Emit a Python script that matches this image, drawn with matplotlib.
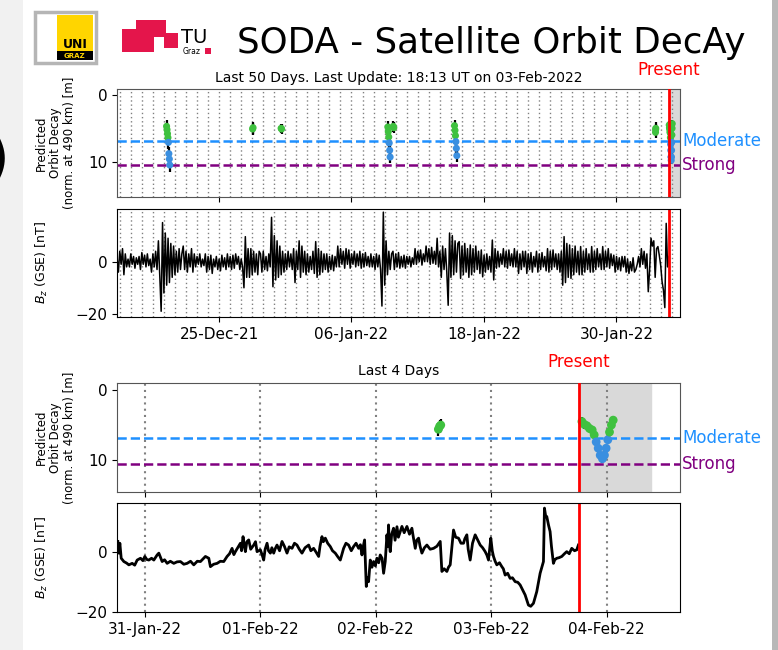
import matplotlib
matplotlib.use('Agg')
import matplotlib.pyplot as plt
import matplotlib.dates as mdates
import matplotlib.transforms as mtransforms
from matplotlib.ticker import FixedLocator
from matplotlib.patches import Rectangle
import numpy as np
import pandas as pd

# ---------------- data ----------------
now = pd.Timestamp('2022-02-03 18:13')
moderate = 6.85
strong = 10.55

# predicted orbit decay [m] (time, value, error)
decay_time = ['2021-12-20 06:00', '2021-12-20 07:00', '2021-12-20 08:00', '2021-12-20 09:00',
              '2021-12-20 10:00', '2021-12-20 11:00', '2021-12-20 12:00', '2021-12-20 13:00',
              '2021-12-28 01:00', '2021-12-28 02:00',
              '2021-12-30 15:00', '2021-12-30 16:00',
              '2022-01-09 07:00', '2022-01-09 08:00', '2022-01-09 09:00', '2022-01-09 10:00',
              '2022-01-09 11:00', '2022-01-09 12:00',
              '2022-01-09 19:00', '2022-01-09 20:00',
              '2022-01-15 08:00', '2022-01-15 09:00', '2022-01-15 10:00', '2022-01-15 11:00',
              '2022-01-15 12:00', '2022-01-15 13:00',
              '2022-02-02 13:00', '2022-02-02 13:15', '2022-02-02 13:30',
              '2022-02-03 18:50', '2022-02-03 19:19', '2022-02-03 19:52', '2022-02-03 20:25',
              '2022-02-03 20:58', '2022-02-03 21:23', '2022-02-03 21:48', '2022-02-03 22:13',
              '2022-02-03 22:38', '2022-02-03 23:06', '2022-02-03 23:31', '2022-02-03 23:52',
              '2022-02-04 00:13', '2022-02-04 00:34', '2022-02-04 00:58', '2022-02-04 01:20']
decay_val = [4.7, 5.2, 5.8, 6.4, 7.1, 8.8, 9.6, 10.5,
             5.1, 4.9,
             5.0, 5.1,
             4.8, 5.5, 6.3, 7.2, 8.3, 9.3,
             4.7, 4.9,
             4.6, 5.3, 6.1, 7.0, 8.0, 9.1,
             5.6, 5.2, 5.0,
             4.5, 4.9, 5.1, 5.5, 5.7, 6.4, 7.4, 8.3,
             9.3, 9.8, 9.3, 8.3, 7.1, 6.0, 5.0, 4.3]
decay_err = [1.0] * 8 + [0.9] * 2 + [0.7] * 2 + [0.9] * 6 + [0.8] * 2 + [0.9] * 6 + [0.9] * 3 + [0.6] * 16

# Bz last 50 days, 3-hourly samples starting at now - 50 days (one row per day)
bz50 = [2, -4, 4, -1, 5, -5, 3, -2,
        1, -2, 3, -1, 2, -2.5, 1.5, -1,
        2, -3, 3.5, -1, 2.5, -2, 3, -1.5,
        1, -4, 3, -2, 4, -3, 8, -6,
        -19, 15, -12, 11, -9, 9, -8, 7,
        -6, 6, -5, 4, -4, 5, -3, 3,
        6, -3, 4, -4, 3, -2, 5, -4,
        3, -2, 2, -1, 3, -2, 1, -1.5,
        3, -4, 2, -3, 2.5, -4.5, 1, -2,
        2, -3, 1, -3.5, 2.5, -2, 1.5, -3,
        3, -2, 2, -3, 2.5, -2.5, 3, -1,
        2, -3, 1, -2, -10, 9.6, -6, 5,
        -6, 5, -5, 4, -4, 3, -5, 4,
        3, -4, 4, -3, 2, -3.5, 3, -2,
        17, -9.6, 10, -7, 8, -6, 6, -5,
        4, -4, 3, -3, 4, -2, 3, -3,
        5, -8, 4, -3, 8, -6, 6, -4,
        4, -5, 3, -4, 2, -3, 4, -4.5,
        7.7, -6, 5, -5, 4, -4, 3, -3,
        3, -4, 2, -3, 2.5, -3.5, 2, -2,
        6, -2, 5, -1, 4, -2.5, 5, -1,
        4.5, -2.5, 3, -1, 4, -2, 3, -1.5,
        4, -2.5, 3, -2, 3.5, -1.5, 2, -2,
        3, -2, 2, -3, 3, -2, 2.5, -3,
        -17, 19, -9, 8, -5, 4, -3, 3,
        4, -3, 3, -2, 3.5, -2.5, 2, -2,
        2.5, -2.5, 2, -1, 2, -2, 1.5, -1,
        5, -1, 4, 0, 4.5, -1.3, 3, 0,
        6, 0, 5, -1, 5.5, -0.6, 4, -1,
        9, -2, 4, -6, 6, -3, 5, -4,
        -16.7, 11, -6, 10, -5, 8, -4, 7,
        7.7, -6.4, 6, -5, 7, -4, 5, -6,
        6.4, -5, 5, -4, 6, -3, 4, -4.5,
        4.5, -5.8, 2.5, -4, 3, -3, 2, -4,
        8.3, -7, 5, -2.5, 4, -2, 3, -1,
        5, -2, 4, -2.5, 4.5, -1.5, 3, -2,
        5, -2, 4, -4.5, 3, -3, 4, -2,
        4, -4.5, 3, -3, 3.5, -4, 2, -2,
        4, -4, 3, -3, 3.5, -2, 2, -3.5,
        5, -4, 4, -3, 4.5, -2, 3, -3,
        3, -4, 4, -9, 9.6, -8, 7, -6,
        6.4, -6.4, 5, -5, 6, -4, 4, -5,
        5.8, -5, 4, -4, 5, -3, 3, -4,
        5.8, -4, 4, -3, 5, -2, 3, -3,
        5.8, -3, 4, -2, 5, -2.5, 3, -1.5,
        2.5, -4, 2, -3, 1.5, -3.5, 2, -2,
        2, -4, 1, -4.5, 0, -3.5, 1.5, -4,
        -3, -1, 2, -2, 5, -1, 4, -2.5,
        3, -11.5, -3, 9, 6, 8, -6, 5,
        5.8, 2.4, -1.4, -7.6, -10.9, -17.6, 14.7, -2,
        2]

# Bz last 4 days: hours after 31-Jan-22 00:00 and values [nT]
bz4_hours = [-5.61, -5.50, -5.40, -5.19, -4.91, -4.36, -3.80, -3.32, -2.63, -2.10,
             -1.59, -0.90, -0.40, 0.00, 0.40, 0.83, 1.40, 1.87, 2.56, 2.91,
             3.60, 4.10, 4.64, 5.30, 6.02, 6.70, 7.40, 8.10, 8.79, 9.50,
             10.17, 10.90, 11.56, 12.10, 12.59, 13.29, 13.63, 14.30, 15.02, 15.70,
             16.40, 17.09, 17.60, 18.13, 18.50, 18.82, 19.30, 19.86, 20.10, 20.41,
             20.70, 20.90, 21.20, 21.59, 22.00, 22.63, 23.00, 23.32, 24.01, 24.40,
             24.70, 25.00, 25.40, 25.70, 26.09, 26.40, 26.78, 27.10, 27.47, 28.00,
             28.51, 29.00, 29.55, 30.00, 30.59, 31.10, 31.62, 32.10, 32.66, 33.30,
             34.05, 34.50, 35.08, 35.60, 36.12, 36.40, 36.81, 37.10, 37.51, 38.00,
             38.54, 39.00, 39.58, 40.10, 40.62, 41.00, 41.31, 41.80, 42.35, 42.90,
             43.39, 43.90, 44.43, 44.80, 45.12, 45.40, 45.67, 46.02, 46.25, 46.50,
             46.85, 47.20, 47.54, 47.90, 48.23, 48.60, 48.92, 49.30, 49.62, 49.96,
             50.31, 50.50, 50.65, 50.80, 51.00, 51.30, 51.69, 52.00, 52.40, 52.70,
             53.08, 53.43, 53.90, 54.47, 55.00, 55.50, 55.80, 56.20, 56.50, 56.89,
             57.20, 57.58, 58.10, 58.62, 59.30, 60.00, 60.70, 61.39, 61.73, 62.20,
             62.77, 63.10, 63.46, 64.15, 64.60, 65.19, 65.70, 66.23, 66.50, 66.92,
             67.20, 67.61, 68.10, 68.65, 69.20, 69.69, 70.20, 70.73, 71.10, 71.42,
             71.90, 72.20, 72.46, 72.80, 73.15, 73.70, 74.19, 74.50, 74.88, 75.40,
             75.92, 76.40, 76.96, 77.50, 78.00, 78.50, 79.03, 79.40, 79.72, 80.20,
             80.76, 81.45, 81.80, 82.15, 82.50, 82.84, 83.05, 83.30, 83.53, 83.90,
             84.22, 84.50, 84.91, 85.20, 85.61, 86.10, 86.65, 87.20, 87.68, 88.20,
             88.72, 89.30, 89.76, 90.10]
bz4_vals = [3.6, 0.5, -0.3, 3.0, -2.0, -3.1, -3.6, -4.2, -3.7, -4.3,
            -2.6, -2.0, -2.8, -1.4, -2.4, -2.6, -2.0, -2.6, -0.9, -0.3,
            -3.1, -2.5, -3.7, -3.0, -3.7, -3.2, -3.1, -4.0, -3.7, -3.0,
            -4.2, -3.0, -3.1, -2.2, -1.4, -2.0, -4.8, -4.0, -3.7, -3.0,
            -3.1, -1.4, -0.5, 1.3, -0.8, 0.2, 1.5, 3.0, 0.5, 5.2,
            2.0, 0.2, 3.5, 4.1, 1.0, 2.4, 3.5, 0.2, 0.8, -1.0,
            -2.6, 1.0, 3.0, 0.5, -0.3, 1.5, -0.3, 1.2, 2.4, 0.5,
            3.6, 2.0, -0.3, 1.8, 1.3, 3.0, 2.4, 1.0, -0.3, 1.5,
            2.4, 0.5, 1.3, 0.0, -1.4, 2.0, 5.2, 3.5, 4.7, 3.0,
            1.9, 0.5, -0.3, -1.5, -2.6, -0.5, 1.3, 3.0, 2.4, 0.5,
            1.9, 3.0, 1.3, 2.5, -0.9, 2.0, 4.1, -11.4, -8.5, -9.8,
            -2.6, -5.0, -3.1, -4.5, -2.0, -3.5, -0.9, -2.0, -7.0, -3.1,
            5.8, 2.0, 9.1, 3.0, 0.2, 6.0, 8.0, 4.0, 8.5, 5.0,
            6.9, 8.6, 6.5, 8.6, 6.0, 8.0, 5.0, 1.3, 4.0, 4.7,
            2.0, -0.3, 1.5, 2.4, 1.0, 1.3, 2.0, 3.6, -6.4, -5.5,
            -6.4, -5.0, -4.2, 7.4, 5.0, 4.7, 3.0, 3.0, 4.5, 5.8,
            1.0, -2.6, 3.0, 5.8, 4.0, 2.4, 1.5, 0.2, -1.0, -2.6,
            4.7, 0.5, -1.4, -3.0, -4.2, -3.5, -4.8, -5.5, -7.6, -7.0,
            -8.7, -8.5, -9.8, -10.0, -10.9, -12.5, -14.2, -16.0, -17.6, -18.0,
            -17.0, -13.1, -10.0, -7.0, -5.0, -3.1, 14.7, 12.0, 11.9, 9.0,
            6.9, 2.0, -3.7, -2.5, -2.0, -1.8, -1.4, -0.5, 0.2, -0.5,
            1.3, 0.5, 0.8, 2.4]

# ---------------- figure ----------------
W, H = 778, 650
fig = plt.figure(figsize=(W / 100, H / 100), dpi=100)


def fx(x):
    return x / W


def fy(y):
    return 1 - y / H


def add_rect(x0, y0, w, h, **kw):
    # rectangle given in picture pixels (top-left origin)
    fig.patches.append(Rectangle((fx(x0), fy(y0 + h)), w / W, h / H, transform=fig.transFigure, **kw))


# page edges of the screenshot
add_rect(0, 0, 23, H, fc='#f1f1f1', ec='none')
add_rect(772, 0, 6, H, fc='#b8b8b8', ec='none')
fig.text(fx(-14), fy(160), ')', fontsize=42, ha='left', va='center')

# UNI Graz logo
add_rect(35, 12, 61, 51, fc='white', ec='#b5b5b5', lw=2.5)
add_rect(57, 15, 36, 36, fc='#ffd500', ec='none')
add_rect(57, 51, 36, 9, fc='black', ec='none')
fig.text(fx(75), fy(45), 'UNI', fontsize=9, fontweight='bold', ha='center', va='center')
fig.text(fx(75), fy(55.5), 'GRAZ', fontsize=5, fontweight='bold', color='#ffd500', ha='center', va='center')

# TU Graz logo
tu_red = '#e4154b'
for (x0, y0, w, h) in [(122, 29, 16, 23), (136, 20, 16, 17), (138, 35, 16, 17),
                       (152, 20, 14, 17), (164, 33, 14, 15)]:
    add_rect(x0, y0, w, h, fc=tu_red, ec='none')
fig.text(fx(181), fy(43), 'TU', fontsize=14, ha='left', va='baseline')
fig.text(fx(183), fy(54.5), 'Graz', fontsize=5.5, ha='left', va='baseline')
add_rect(205, 48, 6, 6, fc=tu_red, ec='none')

fig.text(fx(237), fy(53), 'SODA - Satellite Orbit DecAy', fontsize=25.7, ha='left', va='baseline')

# axes
ax1 = fig.add_axes([fx(117), fy(197), 563 / W, 108 / H])
ax2 = fig.add_axes([fx(117), fy(317), 563 / W, 108 / H], sharex=ax1)
ax3 = fig.add_axes([fx(117), fy(491.7), 563 / W, 108.4 / H])
ax4 = fig.add_axes([fx(117), fy(612.3), 563 / W, 109 / H], sharex=ax3)

t_dec = pd.to_datetime(decay_time)
v_dec = np.array(decay_val)
e_dec = np.array(decay_err)
col_dec = np.where(v_dec >= moderate, '#3a8fe0', '#3fc13f')

t50 = pd.date_range(now - pd.Timedelta(days=50), periods=len(bz50), freq='3h')
t4 = pd.Timestamp('2022-01-31') + pd.to_timedelta(bz4_hours, unit='h')

orbit_label = 'Predicted\nOrbit Decay\n(norm. at 490 km) [m]'
bz_label = r'$B_z$ (GSE) [nT]'


def orbit_panel(ax, shade_end, msize):
    ax.axvspan(now, shade_end, color='#d9d9d9', zorder=0)
    ax.errorbar(t_dec, v_dec, yerr=e_dec, fmt='none', ecolor='k', elinewidth=1.6, zorder=2)
    ax.scatter(t_dec, v_dec, c=col_dec, s=msize, edgecolors='none', zorder=3)
    ax.axhline(moderate, color='dodgerblue', ls='--', lw=1.8, zorder=1)
    ax.axhline(strong, color='purple', ls='--', lw=1.8, zorder=1)
    ax.axvline(now, color='red', lw=2, zorder=4)
    tr = mtransforms.blended_transform_factory(ax.transAxes, ax.transData)
    ax.text(1.004, moderate, 'Moderate', transform=tr, color='dodgerblue', fontsize=12, va='center')
    ax.text(1.004, strong, 'Strong', transform=tr, color='purple', fontsize=12, va='center')
    ax.set_yticks([0, 10])
    ax.set_ylabel(orbit_label, fontsize=8.5, linespacing=1.1)
    ax.yaxis.set_label_coords(-0.073, 0.5)
    for s in ax.spines.values():
        s.set_color('#555555')


def day_lines(ax, days, lw):
    for d in days:
        ax.axvline(d, color='gray', ls=(0, (1, 2)), lw=lw, zorder=0.5)


# top: last 50 days
orbit_panel(ax1, now + pd.Timedelta(days=1), 26)
ax1.set_ylim(15.3, -0.9)
ax1.set_xlim(now - pd.Timedelta(days=50), now + pd.Timedelta(days=1))
ax1.set_title('Last 50 Days. Last Update: 18:13 UT on 03-Feb-2022', fontsize=10, pad=5)
ax1.text(now, 1.176, 'Present', transform=ax1.get_xaxis_transform(), color='red',
         fontsize=12, ha='center', va='center')
plt.setp(ax1.get_xticklabels(), visible=False)

ax2.plot(t50, bz50, color='k', lw=1.1)
ax2.axvline(now, color='red', lw=2)
ax2.set_ylim(-21.2, 20.2)
ax2.set_yticks([-20, 0])
ax2.set_ylabel(bz_label, fontsize=9)
ax2.yaxis.set_label_coords(-0.119, 0.5)

days50 = pd.date_range('2021-12-16', '2022-02-04', freq='D')
day_lines(ax1, days50, 1)
day_lines(ax2, days50, 1)
ticks50 = pd.to_datetime(['2021-12-25', '2022-01-06', '2022-01-18', '2022-01-30'])
ax2.xaxis.set_major_locator(FixedLocator(mdates.date2num(ticks50)))
ax2.xaxis.set_major_formatter(mdates.DateFormatter('%d-%b-%y'))

# bottom: last 4 days
orbit_panel(ax3, now + pd.Timedelta(hours=15), 40)
ax3.set_ylim(14.5, -0.95)
ax3.set_xlim(now - pd.Timedelta(days=4), now + pd.Timedelta(hours=21))
ax3.text(0.5, 1.113, 'Last 4 Days', transform=ax3.transAxes, fontsize=10, ha='center', va='center')
ax3.text(now, 1.196, 'Present', transform=ax3.get_xaxis_transform(), color='red',
         fontsize=12, ha='center', va='center')
plt.setp(ax3.get_xticklabels(), visible=False)

ax4.plot(t4, bz4_vals, color='k', lw=2)
ax4.axvline(now, color='red', lw=2)
ax4.set_ylim(-20, 16.3)
ax4.set_yticks([-20, 0])
ax4.set_ylabel(bz_label, fontsize=9)
ax4.yaxis.set_label_coords(-0.119, 0.5)

days4 = pd.date_range('2022-01-31', '2022-02-04', freq='D')
day_lines(ax3, days4, 1.5)
day_lines(ax4, days4, 1.5)
ax4.xaxis.set_major_locator(FixedLocator(mdates.date2num(days4)))
ax4.xaxis.set_major_formatter(mdates.DateFormatter('%d-%b-%y'))

for ax in (ax1, ax2, ax3, ax4):
    ax.tick_params(labelsize=11)

fig.savefig('out.png', dpi=100)
